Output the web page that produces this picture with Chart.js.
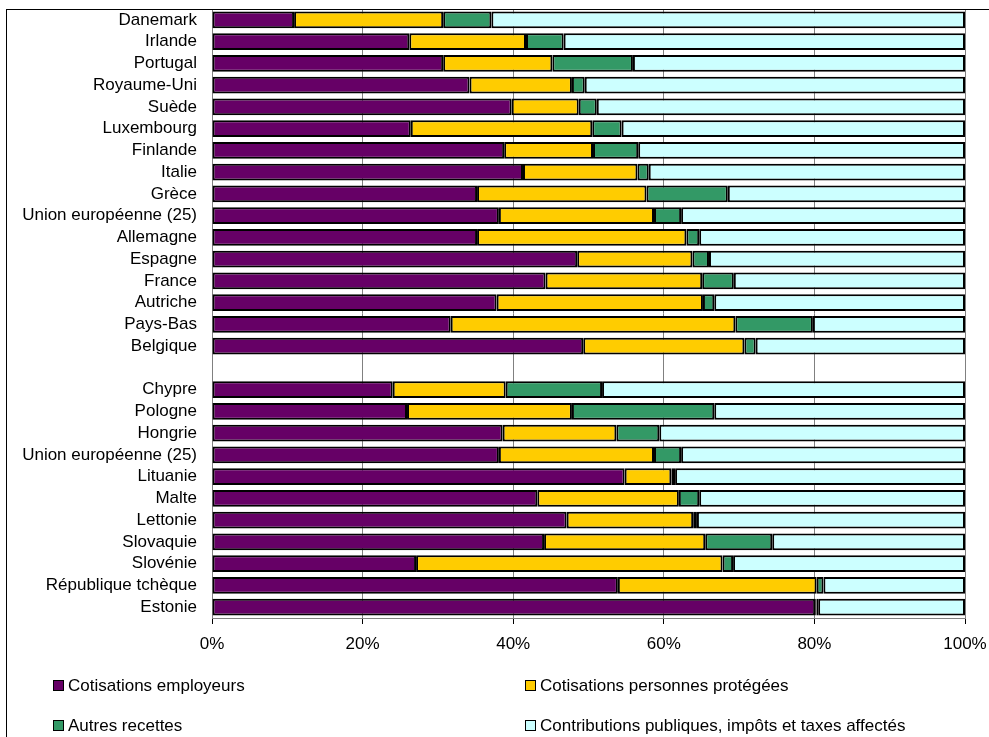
<!DOCTYPE html>
<html>
<head>
<meta charset="utf-8">
<script src="https://cdn.jsdelivr.net/npm/chart.js@4/dist/chart.umd.min.js"></script>
<style>
  html, body { margin: 0; padding: 0; background: #fff; }
  #wrap { position: relative; width: 989px; height: 737px; overflow: hidden; }
  #frame { position: absolute; left: 6px; top: 9px; width: 1000px; height: 800px; border-top: 1px solid #000; border-left: 1px solid #000; pointer-events: none; }
  canvas { position: absolute; left: 0; top: 0; }
  .leg { position: absolute; font-family: "Liberation Sans", Arial, sans-serif; font-size: 17px; color: #000; white-space: nowrap; line-height: 20px; }
  .leg span.box { display: inline-block; width: 9px; height: 9px; border: 1px solid #000; margin-right: 4px; vertical-align: 0px; }
</style>
</head>
<body>
<div id="wrap">
  <canvas id="c" width="989" height="737"></canvas>
  <div id="frame"></div>
  <div id="legend"></div>
</div>
<script>
const categories = ['Danemark','Irlande','Portugal','Royaume-Uni','Suède','Luxembourg','Finlande','Italie','Grèce','Union européenne (25)','Allemagne','Espagne','France','Autriche','Pays-Bas','Belgique','','Chypre','Pologne','Hongrie','Union européenne (25)','Lituanie','Malte','Lettonie','Slovaquie','Slovénie','République tchèque','Estonie'];
const cotisationsEmployeurs = [10.9,26.2,30.7,34.2,39.8,26.4,38.8,41.3,35.2,38.1,35.2,48.5,44.3,37.8,31.7,49.3,null,24.0,25.9,38.6,38.1,54.8,43.2,47.1,44.1,27.1,53.9,80.1];
const cotisationsProtegees = [19.8,15.5,14.5,13.6,8.9,24.1,11.8,15.2,22.5,20.6,27.8,15.3,20.8,27.4,37.8,21.4,null,15.0,21.9,15.1,20.6,6.2,18.8,16.8,21.4,40.7,26.4,0.2];
const autresRecettes = [6.4,5.0,10.7,1.7,2.4,3.9,6.0,1.5,10.8,3.6,1.7,2.2,4.2,1.5,10.3,1.5,null,12.8,18.9,5.7,3.6,0.5,2.7,0.5,8.9,1.4,0.9,0.2];
const contributionsPubliques = [62.9,53.3,44.1,50.5,48.9,45.6,43.4,42.0,31.5,37.7,35.3,34.0,30.7,33.3,20.2,27.8,null,48.2,33.3,40.6,37.7,38.5,35.3,35.6,25.6,30.8,18.8,19.5];
const seriesLabels = ['Cotisations employeurs','Cotisations personnes protégées','Autres recettes','Contributions publiques, impôts et taxes affectés'];
const xTicks = [0,20,40,60,80,100];

const colors = ['#660066','#FFCC00','#339966','#CCFFFF'];
const values = [cotisationsEmployeurs, cotisationsProtegees, autresRecettes, contributionsPubliques];
const FONT = '"Liberation Sans", Arial, sans-serif';

const datasets = values.map((v, i) => ({
  label: seriesLabels[i],
  data: v,
  backgroundColor: colors[i],
  borderColor: '#000',
  borderWidth: 2,
  borderSkipped: false,
  barPercentage: 0.76,
  categoryPercentage: 1.0
}));

const plotBorder = {
  id: 'plotBorder',
  beforeDatasetsDraw(chart) {
    const a = chart.chartArea, ctx = chart.ctx;
    ctx.save();
    ctx.strokeStyle = '#808080';
    ctx.lineWidth = 1;
    ctx.strokeRect(Math.round(a.left) + 0.5, Math.round(a.top) + 0.5, Math.round(a.right - a.left), Math.round(a.bottom - a.top));
    ctx.restore();
  }
};

function zeroPad(s) { s.paddingTop = 0; s.paddingBottom = 0; s.paddingLeft = 0; s.paddingRight = 0; }

new Chart(document.getElementById('c'), {
  type: 'bar',
  data: { labels: categories, datasets },
  options: {
    indexAxis: 'y',
    responsive: false,
    animation: false,
    layout: { padding: { top: 9, right: 24, left: 0, bottom: 0 } },
    plugins: { legend: { display: false }, tooltip: { enabled: false } },
    scales: {
      x: {
        stacked: true, min: 0, max: 100,
        afterBuildTicks: s => { s.ticks = xTicks.map(v => ({ value: v })); },
        afterFit: s => { s.height = 737 - 618; zeroPad(s); },
        ticks: { callback: v => v + '%', color: '#000', font: { family: FONT, size: 17 }, padding: 10, maxRotation: 0 },
        grid: { color: '#808080', lineWidth: 1, tickLength: 6, tickColor: '#000', drawOnChartArea: true },
        border: { color: '#000', width: 1 }
      },
      y: {
        stacked: true,
        afterFit: s => { s.width = 212; zeroPad(s); },
        ticks: { color: '#000', font: { family: FONT, size: 17 }, padding: 15, autoSkip: false },
        grid: { display: false, drawTicks: false },
        border: { color: '#000', width: 1 }
      }
    }
  },
  plugins: [plotBorder]
});

// legend (2 x 2 grid) built from dataset labels/colors
const legPos = [[53, 676], [525, 676], [53, 716], [525, 716]];
const legend = document.getElementById('legend');
seriesLabels.forEach((lab, i) => {
  const d = document.createElement('div');
  d.className = 'leg';
  d.style.left = legPos[i][0] + 'px';
  d.style.top = legPos[i][1] + 'px';
  const b = document.createElement('span');
  b.className = 'box';
  b.style.background = colors[i];
  d.appendChild(b);
  d.appendChild(document.createTextNode(lab));
  legend.appendChild(d);
});
</script>
</body>
</html>
